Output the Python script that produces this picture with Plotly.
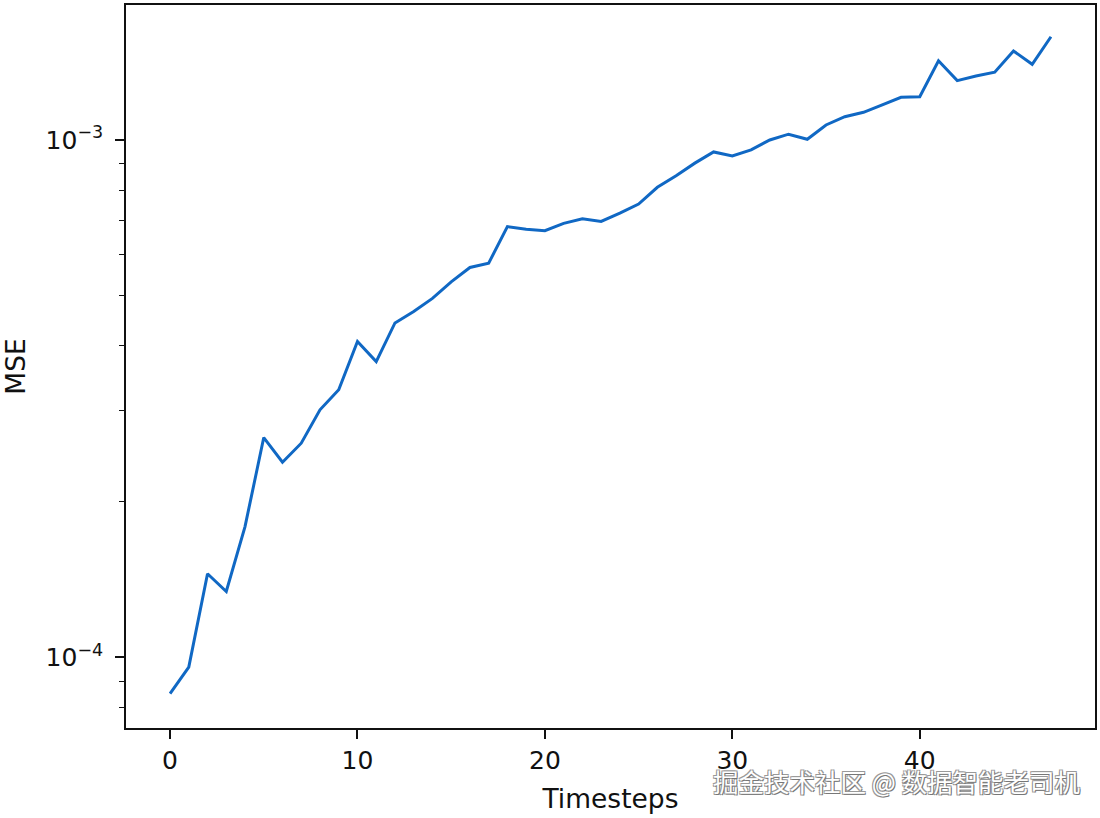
import plotly.graph_objects as go

timesteps = list(range(48))
mse = [8.51e-5, 9.58e-5, 1.451e-4, 1.341e-4, 1.79e-4, 2.66e-4, 2.384e-4, 2.594e-4,
       3.01e-4, 3.29e-4, 4.08e-4, 3.73e-4, 4.43e-4, 4.66e-4, 4.94e-4, 5.32e-4,
       5.67e-4, 5.78e-4, 6.80e-4, 6.72e-4, 6.68e-4, 6.90e-4, 7.04e-4, 6.96e-4,
       7.22e-4, 7.52e-4, 8.10e-4, 8.53e-4, 9.02e-4, 9.48e-4, 9.31e-4, 9.57e-4,
       1.000e-3, 1.026e-3, 1.003e-3, 1.069e-3, 1.109e-3, 1.131e-3, 1.169e-3, 1.209e-3,
       1.212e-3, 1.422e-3, 1.302e-3, 1.329e-3, 1.352e-3, 1.486e-3, 1.400e-3, 1.583e-3]

x_tickvals = [0, 10, 20, 30, 40]
y_tickvals = [1e-4, 1e-3]
y_ticktext = ["10<sup>\u22124</sup>", "10<sup>\u22123</sup>"]
y_minor = [8e-5, 9e-5, 2e-4, 3e-4, 4e-4, 5e-4, 6e-4, 7e-4, 8e-4, 9e-4]
watermark = "掘金技术社区 @ 数据智能老司机"

fig = go.Figure()
fig.add_trace(go.Scatter(x=timesteps, y=mse, mode="lines",
                         line=dict(color="#1068c4", width=3),
                         showlegend=False, hoverinfo="skip"))

font = dict(family="DejaVu Sans", size=25, color="#111111")
title_font = dict(family="DejaVu Sans", size=26.5, color="#111111")

fig.update_layout(
    width=1100, height=818,
    margin=dict(l=126, r=5, t=5, b=90),
    paper_bgcolor="white", plot_bgcolor="white",
    font=font,
    xaxis=dict(range=[-2.35, 49.35], tickmode="array", tickvals=x_tickvals,
               ticks="outside", ticklen=9, tickwidth=1.6, tickcolor="#111",
               showgrid=False, zeroline=False, showline=True, linecolor="#111",
               linewidth=1.6, mirror=True, tickfont=font, automargin=False,
               title=dict(text="Timesteps", font=title_font, standoff=16)),
    yaxis=dict(type="log", range=[-4.1364, -2.7392], tickmode="array",
               tickvals=y_tickvals, ticktext=y_ticktext,
               ticks="outside", ticklen=9, tickwidth=1.6, tickcolor="#111",
               ticklabelstandoff=7,
               minor=dict(tickmode="array", tickvals=y_minor, ticks="outside",
                          ticklen=5, tickwidth=1.2, tickcolor="#111", showgrid=False),
               showgrid=False, zeroline=False, showline=True, linecolor="#111",
               linewidth=1.6, mirror=True, tickfont=font, automargin=False,
               title=dict(text="MSE", font=title_font, standoff=14)),
)

fig.add_annotation(text=watermark, xref="paper", yref="paper",
                   x=(896 - 126) / 969, y=(728 - 780) / 723,
                   xanchor="center", yanchor="middle", showarrow=False,
                   font=dict(family="Noto Sans CJK SC", size=25.5, color="white",
                             shadow="1px 1px 0 #777, -1px -1px 0 #999, 1px -1px 0 #999, -1px 1px 0 #999"))

fig.write_html("out.html", config={"displayModeBar": False},
               post_script="document.body.style.margin='0';document.body.style.overflow='hidden';")
